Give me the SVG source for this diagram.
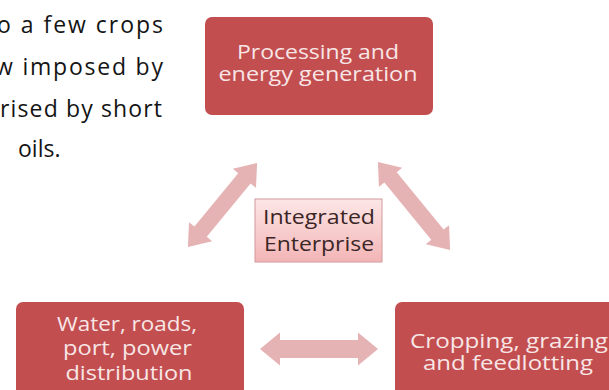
<svg xmlns="http://www.w3.org/2000/svg" width="609" height="390" viewBox="0 0 609 390">
  <style>
    .para { font-family: "Open Sans", "Liberation Sans", sans-serif; font-size: 23px; font-weight: 500; fill: #141414; }
    .box { fill: #c24e50; }
    .boxtext { font-family: "Open Sans", "Liberation Sans", sans-serif; font-size: 19.5px; font-weight: 500; fill: #f8e6e6; text-anchor: middle; }
    .ctext { font-family: "Open Sans", "Liberation Sans", sans-serif; font-size: 19.5px; font-weight: 500; fill: #3a2626; text-anchor: middle; }
    .arrow { fill: #e6b3b5; }
  </style>
  <defs>
    <linearGradient id="centerGrad" x1="0" y1="0" x2="0" y2="1">
      <stop offset="0" stop-color="#fde6e6"/>
      <stop offset="1" stop-color="#f3b5b6"/>
    </linearGradient>
  </defs>
  <rect width="609" height="390" fill="#ffffff"/>

  <g id="paragraph">
    <text class="para" x="-3" y="33" textLength="166" lengthAdjust="spacing">o a few crops</text>
    <text class="para" x="-5" y="75" textLength="168" lengthAdjust="spacing">w imposed by</text>
    <text class="para" x="0" y="117" textLength="162" lengthAdjust="spacing">rised by short</text>
    <text class="para" x="18" y="157">oils.</text>
  </g>

  <g id="connectors">
    <path class="arrow" transform="translate(222.5,205) rotate(-50.6)" d="M-54.5,0 L-34.5,-15 L-34.5,-8 L34.5,-8 L34.5,-15 L54.5,0 L34.5,15 L34.5,8 L-34.5,8 L-34.5,15 Z"/>
    <path class="arrow" transform="translate(414,206) rotate(50.7)" d="M-57,0 L-37,-15 L-37,-8 L37,-8 L37,-15 L57,0 L37,15 L37,8 L-37,8 L-37,15 Z"/>
    <path class="arrow" transform="translate(319,349)" d="M-59,0 L-39,-16.5 L-39,-9 L39,-9 L39,-16.5 L59,0 L39,16.5 L39,9 L-39,9 L-39,16.5 Z"/>
  </g>

  <g id="processing">
    <rect class="box" x="205" y="17" width="228" height="98" rx="7"/>
    <text class="boxtext" x="318" y="59" textLength="162" lengthAdjust="spacingAndGlyphs">Processing and</text>
    <text class="boxtext" x="318" y="81" textLength="199" lengthAdjust="spacingAndGlyphs">energy generation</text>
  </g>

  <g id="integrated">
    <rect x="255" y="199" width="127" height="63" fill="url(#centerGrad)" stroke="#d29a9b" stroke-width="1"/>
    <text class="ctext" x="319" y="224" textLength="112" lengthAdjust="spacingAndGlyphs">Integrated</text>
    <text class="ctext" x="319" y="251" textLength="110" lengthAdjust="spacingAndGlyphs">Enterprise</text>
  </g>

  <g id="water">
    <rect class="box" x="16" y="302" width="228" height="100" rx="7"/>
    <text class="boxtext" x="127" y="331" textLength="140" lengthAdjust="spacingAndGlyphs">Water, roads,</text>
    <text class="boxtext" x="127.5" y="355" textLength="129" lengthAdjust="spacingAndGlyphs">port, power</text>
    <text class="boxtext" x="129" y="380" textLength="127" lengthAdjust="spacingAndGlyphs">distribution</text>
  </g>

  <g id="cropping">
    <rect class="box" x="395" y="302" width="228" height="100" rx="7"/>
    <text class="boxtext" x="509" y="348" textLength="198" lengthAdjust="spacingAndGlyphs">Cropping, grazing</text>
    <text class="boxtext" x="508" y="370" textLength="170" lengthAdjust="spacingAndGlyphs">and feedlotting</text>
  </g>
</svg>
